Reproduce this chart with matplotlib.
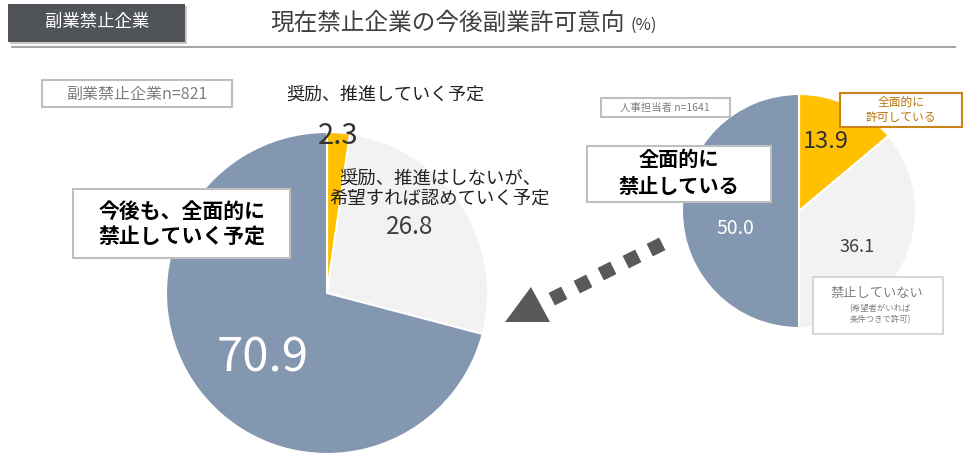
import matplotlib
matplotlib.use("Agg")
import matplotlib.pyplot as plt
from matplotlib.patches import Rectangle, Polygon

plt.rcParams["font.family"] = ["Noto Sans CJK JP", "DejaVu Sans"]

W, H = 968, 457

# chart data
header_label = "副業禁止企業"
title = "現在禁止企業の今後副業許可意向"
left_n_label = "副業禁止企業n=821"
left_labels = ["奨励、推進していく予定",
               "奨励、推進はしないが、\n希望すれば認めていく予定",
               "今後も、全面的に\n禁止していく予定"]
left_values = [2.3, 26.8, 70.9]
right_n_label = "人事担当者 n=1641"
right_labels = ["全面的に\n許可している", "禁止していない", "全面的に\n禁止している"]
right_note = "(希望者がいれば\n条件つきで許可)"
right_values = [13.9, 36.1, 50.0]
colors = ["#FFC000", "#F2F2F2", "#8497B0"]


def Y(y):
    # pixel row -> data y
    return H - y


def box(ax, x0, y0, x1, y1, ec="#BFBFBF", lw=1.5, fc="white"):
    ax.add_patch(Rectangle((x0, Y(y1)), x1 - x0, y1 - y0, facecolor=fc,
                           edgecolor=ec, linewidth=lw, zorder=5))


fig = plt.figure(figsize=(W / 100, H / 100), dpi=100)
ax = fig.add_axes((0, 0, 1, 1))

# pies
ax.pie(left_values, colors=colors, startangle=90, counterclock=False,
       center=(327, Y(293)), radius=161,
       wedgeprops=dict(edgecolor="white", linewidth=1.5))
ax.pie(right_values, colors=colors, startangle=90, counterclock=False,
       center=(799, Y(211)), radius=117,
       wedgeprops=dict(edgecolor="white", linewidth=1.5))
ax.set_xlim(0, W)
ax.set_ylim(0, H)
ax.set_aspect("equal")
ax.axis("off")

# header
ax.add_patch(Rectangle((10, Y(44)), 177, 38, facecolor="#C8C8C8",
                       edgecolor="none", zorder=4))
ax.add_patch(Rectangle((8, Y(42)), 177, 38, facecolor="#505459",
                       edgecolor="none", zorder=5))
ax.text(97, Y(22), header_label, color="white", fontsize=12.5,
        ha="center", va="center", zorder=6)
ax.text(270, Y(23), title, fontsize=17, color="#404040",
        ha="left", va="center")
ax.text(631, Y(25), "(%)", fontsize=12, color="#404040",
        ha="left", va="center")
ax.plot([12, 955], [Y(47), Y(47)], color="#A6A6A6", linewidth=1.5)

# left pie annotations
box(ax, 42, 80, 232, 107)
ax.text(137, Y(94), left_n_label, fontsize=11.5, color="#7F7F7F",
        ha="center", va="center", zorder=6)
ax.text(385, Y(95), left_labels[0], fontsize=13, color="#222222",
        ha="center", va="center")
ax.text(338, Y(136), f"{left_values[0]:.1f}", fontsize=21, color="#333333",
        ha="center", va="center", zorder=6)
ax.text(440, Y(189), left_labels[1], fontsize=13.2, color="#222222",
        ha="center", va="center", linespacing=1.1, zorder=6)
ax.text(410, Y(227), f"{left_values[1]:.1f}", fontsize=17.5, color="#404040",
        ha="center", va="center", zorder=6)
ax.text(263, Y(358), f"{left_values[2]:.1f}", fontsize=34, color="white",
        ha="center", va="center", zorder=6)
box(ax, 73, 189, 290, 258)
ax.text(182, Y(224), left_labels[2], fontsize=15, fontweight="bold",
        color="black", ha="center", va="center", linespacing=1.25, zorder=6)

# right pie annotations
box(ax, 601, 98, 730, 117)
ax.text(665, Y(108), right_n_label, fontsize=7.5, color="#7F7F7F",
        ha="center", va="center", zorder=6)
box(ax, 840, 93, 962, 127, ec="#C9851A", lw=1.5)
ax.text(901, Y(110), right_labels[0], fontsize=8.5, color="#B8720A",
        ha="center", va="center", linespacing=1.2, zorder=6)
ax.text(826, Y(142), f"{right_values[0]:.1f}", fontsize=17, color="#333333",
        ha="center", va="center", zorder=6)
ax.text(735, Y(228), f"{right_values[2]:.1f}", fontsize=14, color="white",
        ha="center", va="center", zorder=6)
ax.text(857, Y(247), f"{right_values[1]:.1f}", fontsize=13, color="#404040",
        ha="center", va="center", zorder=6)
box(ax, 813, 277, 943, 334, ec="#D0D0D0", lw=1.2)
ax.text(877, Y(293), right_labels[1], fontsize=9.5, color="#7F7F7F",
        ha="center", va="center", zorder=6)
ax.text(880, Y(314), right_note, fontsize=6, color="#7F7F7F",
        ha="center", va="center", linespacing=1.2, zorder=6)
box(ax, 587, 146, 771, 202)
ax.text(679, Y(173), right_labels[2], fontsize=14.5, fontweight="bold",
        color="black", ha="center", va="center", linespacing=1.3, zorder=6)

# dotted arrow from right pie to left pie
for cx, cy in [(558, 296), (583, 284), (607, 271), (632, 259), (656, 247)]:
    ax.add_patch(Rectangle((cx - 7, Y(cy) - 7), 14, 14, angle=26.6,
                           rotation_point="center", facecolor="#595959",
                           edgecolor="none", zorder=6))
ax.add_patch(Polygon([(505, Y(322)), (550, Y(322)), (531, Y(287))],
                     closed=True, facecolor="#595959", edgecolor="none",
                     zorder=6))

fig.savefig("out.png", dpi=100)
